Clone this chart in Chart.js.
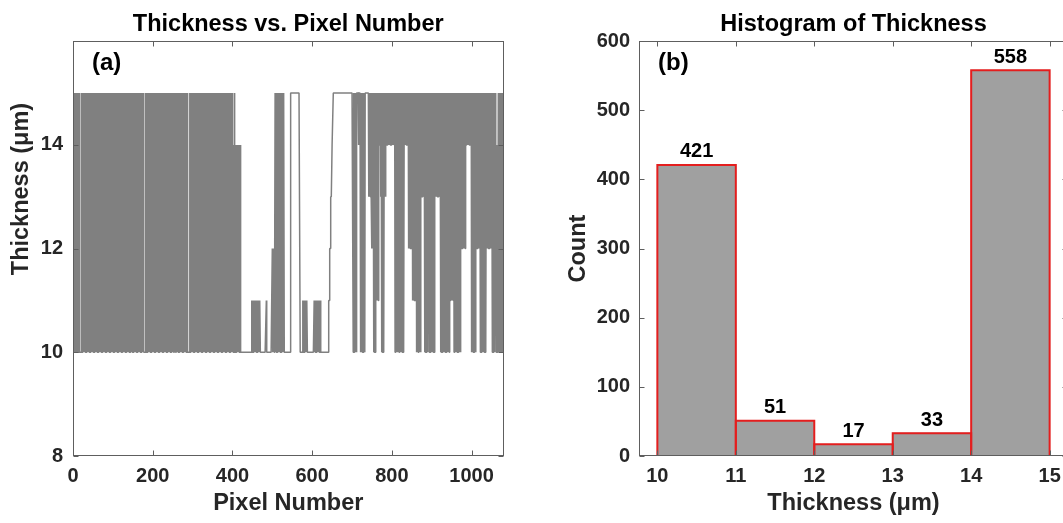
<!DOCTYPE html>
<html>
<head>
<meta charset="utf-8">
<script src="https://cdn.jsdelivr.net/npm/chart.js@4.4.1/dist/chart.umd.min.js"></script>
<style>
  html, body { margin: 0; padding: 0; background: #fff; overflow: hidden; }
  #page { position: relative; width: 1063px; height: 523px; overflow: hidden; background: #fff; }
  #lineBox { position: absolute; left: 0; top: 0; width: 530px; height: 523px; }
  #histBox { position: absolute; left: 530px; top: 0; width: 560px; height: 523px; }
</style>
</head>
<body>
<div id="page">
  <div id="lineBox"><canvas id="lineChart" width="530" height="523"></canvas></div>
  <div id="histBox"><canvas id="histChart" width="560" height="523"></canvas></div>
</div>
<script>
// ---------------------------------------------------------------
// Data
// ---------------------------------------------------------------
// Thickness of every pixel (1..1080). Each character is one pixel's
// thickness minus 10 µm ("0" = 10 µm ... "5" = 15 µm); spaces only group
// the characters in tens for readability.
const THICKNESS_CODES = [
  "0505050505 0505050000 0505050505 0505050505 0505050505 0505050505", //    1-60
  "0505050505 0505050505 0505050505 0505050505 0505050505 0505050505", //   61-120
  "0505050505 0505050505 0505050505 0505050505 0505050505 0505050000", //  121-180
  "0050505050 5050505050 5050505050 5050505050 5050505050 5050505050", //  181-240
  "5050505050 5000050000 5050505050 5050505050 5050505000 0050505050", //  241-300
  "5050505050 5050505050 5050505050 5050505050 5050505050 5050505050", //  301-360
  "5050505050 5050505050 5050505050 5050505050 4040540404 0404040404", //  361-420
  "0000000000 0000000000 0000000010 1010101010 1010101010 0000000000", //  421-480
  "0000100000 0000000002 0202025050 5050505050 5050505050 0000000000", //  481-540
  "0000055555 5555555555 5555555550 0000001010 1010101000 0000000000", //  541-600
  "0000101010 1010101010 1000000000 0000000000 1112223334 4455555555", //  601-660
  "5555555555 5555555555 5555555555 5555555555 5505050505 0555545555", //  661-720
  "5050505050 5055555555 5353535352 5250505052 5151515454 5350505050", //  721-780
  "5353545454 5454545454 5454545050 5050545050 5050505050 5454545454", //  781-840
  "5252525252 5151515151 5050505050 5053535353 5050505050 5350505050", //  841-900
  "5050505353 5353535353 5050505050 5050505050 5050515151 5151505050", //  901-960
  "5050505050 5052525252 5252545454 5454545450 5050505050 5252525252", //  961-1020
  "5050505050 5050505252 5252545252 5050505054 4040405050 5050505050"  // 1021-1080
];

const pixelTicks = [0, 200, 400, 600, 800, 1000];
const thicknessTicks = [8, 10, 12, 14];

// Histogram bins (µm) and the counts printed above each bar
const binEdges = [10, 11, 12, 13, 14, 15];
const binCounts = [421, 51, 17, 33, 558];
const countTicks = [0, 100, 200, 300, 400, 500, 600];

const thickness = THICKNESS_CODES.join("").replace(/\s+/g, "").split("").map(c => 10 + Number(c));

// ---------------------------------------------------------------
// Styling helpers
// ---------------------------------------------------------------
const FAMILY = '"Liberation Sans", Arial, Helvetica, sans-serif';
const TICK_FONT = { family: FAMILY, size: 20, weight: "bold" };
const LABEL_FONT = { family: FAMILY, size: 23.5, weight: "bold" };
const TITLE_FONT = { family: FAMILY, size: 23.5, weight: "bold" };
const TEXT_DARK = "#262626";
const AXIS_COLOR = "#5e5e5e";
const plainNumber = v => String(v);

// Closed box around the plot area with inward tick marks on all four sides
const axisBox = {
  id: "axisBox",
  afterDraw(chart, args, opts) {
    const { ctx, chartArea: a, scales } = chart;
    const L = Math.round(a.left) + 0.5, R = Math.round(a.right) - 0.5;
    const T = Math.round(a.top) + 0.5, B = Math.round(a.bottom) - 0.5;
    const len = opts.tickLen || 5;
    ctx.save();
    ctx.strokeStyle = opts.color || AXIS_COLOR;
    ctx.lineWidth = 1;
    ctx.strokeRect(L, T, R - L, B - T);
    ctx.beginPath();
    scales.x.ticks.forEach(t => {
      const x = Math.round(scales.x.getPixelForValue(t.value)) + 0.5;
      ctx.moveTo(x, B); ctx.lineTo(x, B - len);
      ctx.moveTo(x, T); ctx.lineTo(x, T + len);
    });
    scales.y.ticks.forEach(t => {
      const y = Math.round(scales.y.getPixelForValue(t.value)) + 0.5;
      ctx.moveTo(L, y); ctx.lineTo(L + len, y);
      ctx.moveTo(R, y); ctx.lineTo(R - len, y);
    });
    ctx.stroke();
    ctx.restore();
  }
};

// Free text: panel letters and labels placed relative to the plot area
const panelText = {
  id: "panelText",
  afterDraw(chart, args, opts) {
    const { ctx, chartArea: a } = chart;
    (opts.items || []).forEach(it => {
      ctx.save();
      ctx.font = it.font;
      ctx.fillStyle = it.color || "#000";
      ctx.textAlign = it.align || "left";
      ctx.textBaseline = it.baseline || "middle";
      const x = it.fromLeft !== undefined ? a.left + it.fromLeft : it.x;
      const y = it.fromTop !== undefined ? a.top + it.fromTop : it.y;
      ctx.translate(x, y);
      if (it.rotate) ctx.rotate(it.rotate);
      ctx.fillText(it.text, 0, 0);
      ctx.restore();
    });
  }
};

// Red outline of each histogram bar (centred on the bin edges) and its count
const binOutline = {
  id: "binOutline",
  afterDatasetsDraw(chart, args, opts) {
    const { ctx } = chart;
    const meta = chart.getDatasetMeta(0);
    ctx.save();
    ctx.strokeStyle = opts.color;
    ctx.lineWidth = opts.width;
    ctx.lineJoin = "miter";
    meta.data.forEach(bar => {
      const { x, y, base, width } = bar.getProps(["x", "y", "base", "width"], true);
      const l = x - width / 2, r = x + width / 2;
      ctx.beginPath();
      ctx.moveTo(l, base); ctx.lineTo(l, y); ctx.lineTo(r, y); ctx.lineTo(r, base);
      ctx.stroke();
    });
    ctx.font = opts.labelFont;
    ctx.fillStyle = "#000";
    ctx.textAlign = "center";
    ctx.textBaseline = "bottom";
    meta.data.forEach((bar, i) => {
      ctx.fillText(String(binCounts[i]), bar.x, bar.y - 3);
    });
    ctx.restore();
  }
};

const noGrid = { display: false, drawTicks: false };
const noBorder = { display: false };

// ---------------------------------------------------------------
// (a) Thickness vs. pixel number
// ---------------------------------------------------------------
new Chart(document.getElementById("lineChart"), {
  type: "line",
  data: {
    datasets: [{
      data: thickness.map((v, i) => ({ x: i + 1, y: v })),
      borderColor: "#808080",
      borderWidth: 1.5,
      borderJoinStyle: "bevel",
      pointRadius: 0,
      tension: 0,
      fill: false
    }]
  },
  options: {
    responsive: false,
    animation: false,
    events: [],
    layout: { padding: { left: 0, right: 26.5, top: 0, bottom: 0 } },
    scales: {
      x: {
        type: "linear",
        min: 0,
        max: 1080,
        grid: noGrid,
        border: noBorder,
        afterBuildTicks: s => { s.ticks = pixelTicks.map(v => ({ value: v })); },
        afterFit: s => { s.height = 67; },
        ticks: { font: TICK_FONT, color: TEXT_DARK, padding: 8, maxRotation: 0, autoSkip: false, callback: plainNumber },
        title: { display: true, text: "Pixel Number", font: LABEL_FONT, color: TEXT_DARK, padding: { top: 0, bottom: 5 } }
      },
      y: {
        type: "linear",
        min: 8,
        max: 16,
        grid: noGrid,
        border: noBorder,
        afterBuildTicks: s => { s.ticks = thicknessTicks.map(v => ({ value: v })); },
        afterFit: s => { s.width = 73; },
        ticks: { font: TICK_FONT, color: TEXT_DARK, padding: 10, autoSkip: false, callback: plainNumber }
      }
    },
    plugins: {
      legend: { display: false },
      tooltip: { enabled: false },
      title: {
        display: true,
        fullSize: false,
        text: "Thickness vs. Pixel Number",
        font: TITLE_FONT,
        color: "#000",
        padding: { top: 10, bottom: 3 }
      },
      axisBox: { color: AXIS_COLOR, tickLen: 5 },
      panelText: {
        items: [
          { text: "(a)", fromLeft: 19, fromTop: 22, font: "bold 24px " + FAMILY, color: "#000" },
          { text: "Thickness (μm)", x: 22, y: 189, rotate: -Math.PI / 2, align: "center",
            font: "bold 23.5px " + FAMILY, color: TEXT_DARK }
        ]
      }
    }
  },
  plugins: [axisBox, panelText]
});

// ---------------------------------------------------------------
// (b) Histogram of thickness
// ---------------------------------------------------------------
new Chart(document.getElementById("histChart"), {
  type: "bar",
  data: {
    datasets: [{
      data: binCounts.map((c, i) => ({ x: (binEdges[i] + binEdges[i + 1]) / 2, y: c })),
      backgroundColor: "#a0a0a0",
      borderWidth: 0,
      barPercentage: 1,
      categoryPercentage: 1
    }]
  },
  options: {
    responsive: false,
    animation: false,
    events: [],
    layout: { padding: { left: 0, right: 22, top: 0, bottom: 0 } },
    scales: {
      x: {
        type: "linear",
        offset: false,
        min: 9.766,
        max: 15.234,
        grid: { display: false, drawTicks: false, offset: false },
        border: noBorder,
        afterBuildTicks: s => { s.ticks = binEdges.map(v => ({ value: v })); },
        afterFit: s => { s.height = 67; },
        ticks: { font: TICK_FONT, color: TEXT_DARK, padding: 8, maxRotation: 0, autoSkip: false, callback: plainNumber },
        title: { display: true, text: "Thickness (μm)", font: LABEL_FONT, color: TEXT_DARK, padding: { top: 0, bottom: 5 } }
      },
      y: {
        type: "linear",
        min: 0,
        max: 600,
        grid: noGrid,
        border: noBorder,
        afterBuildTicks: s => { s.ticks = countTicks.map(v => ({ value: v })); },
        afterFit: s => { s.width = 109; },
        ticks: { font: TICK_FONT, color: TEXT_DARK, padding: 9, autoSkip: false, callback: plainNumber },
        title: { display: true, text: "Count", font: LABEL_FONT, color: TEXT_DARK, padding: { top: 34, bottom: 0 } }
      }
    },
    plugins: {
      legend: { display: false },
      tooltip: { enabled: false },
      title: {
        display: true,
        fullSize: false,
        text: "Histogram of Thickness",
        font: TITLE_FONT,
        color: "#000",
        padding: { top: 10, bottom: 3 }
      },
      axisBox: { color: AXIS_COLOR, tickLen: 5 },
      binOutline: { color: "rgb(228,30,30)", width: 2, labelFont: "bold 20px " + FAMILY },
      panelText: {
        items: [
          { text: "(b)", fromLeft: 19, fromTop: 22, font: "bold 24px " + FAMILY, color: "#000" }
        ]
      }
    }
  },
  plugins: [axisBox, binOutline, panelText]
});
</script>
</body>
</html>
